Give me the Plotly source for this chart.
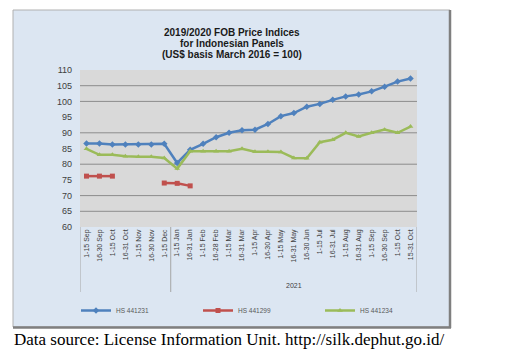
import plotly.graph_objects as go

# ---- data ----
periods = ["1-15 Sep", "16-30 Sep", "1-15 Oct", "16-31 Oct", "1-15 Nov", "16-30 Nov", "1-15 Dec",
           "1-15 Jan", "16-31 Jan", "1-15 Feb", "16-28 Feb", "1-15 Mar", "16-31 Mar", "1-15 Apr",
           "16-30 Apr", "1-15 May", "16-31 May", "16-30 Jun", "1-15 Jul", "16-31 Jul", "1-15 Aug",
           "16-31 Aug", "1-15 Sep", "16-30 Sep", "1-15 Oct", "15-31 Oct"]
group_2021_start = 7
group_label = "2021"

hs441231 = [86.6, 86.6, 86.3, 86.3, 86.3, 86.3, 86.5, 80.4, 84.6, 86.5, 88.6, 90.0, 90.8, 91.0,
            92.8, 95.3, 96.3, 98.3, 99.2, 100.5, 101.6, 102.2, 103.2, 104.7, 106.3, 107.3]
hs441299 = [76.2, 76.2, 76.2, None, None, None, 74.0, 73.9, 73.1, None, None, None, None, None,
            None, None, None, None, None, None, None, None, None, None, None, None]
hs441234 = [84.9, 83.0, 83.0, 82.5, 82.4, 82.4, 82.0, 78.6, 84.1, 84.1, 84.1, 84.1, 84.9, 84.0,
            84.0, 83.9, 82.0, 81.9, 87.0, 87.8, 90.0, 88.8, 90.0, 91.0, 90.0, 92.0]

series_names = ["HS 441231", "HS 441299", "HS 441234"]
y_ticks = [60, 65, 70, 75, 80, 85, 90, 95, 100, 105, 110]
grid_values = [65, 70, 80, 90, 100, 105]

title_lines = ["2019/2020 FOB Price Indices", "for Indonesian Panels", "(US$ basis March 2016 = 100)"]
caption = "Data source: License Information Unit. http://silk.dephut.go.id/"

# ---- layout geometry (pixels) ----
W, H = 511, 354
L, R, T, B = 80, 417, 70, 227
pw, ph = R - L, B - T


def px(x):
    return (x - L) / pw


def py(y):
    return (B - y) / ph


xs = list(range(len(periods)))
fig = go.Figure()
colors = ["#4f81bd", "#c0504d", "#9bbb59"]
symbols = ["diamond", "square", "triangle-up"]
for name, vals, c, s in zip(series_names, [hs441231, hs441299, hs441234], colors, symbols):
    fig.add_trace(go.Scatter(x=xs, y=vals, name=name, mode="lines+markers",
                             line=dict(color=c, width=2.5),
                             marker=dict(color=c, symbol=s, size=5),
                             connectgaps=False))

shapes = []
# chart frame
shapes.append(dict(type="rect", xref="paper", yref="paper", x0=px(13), x1=px(450), y0=py(327), y1=py(10),
                   fillcolor="#dce6f2", line=dict(color="#b0b0b0", width=1), layer="below"))
shapes.append(dict(type="line", xref="paper", yref="paper", x0=px(450), x1=px(450), y0=py(328), y1=py(10),
                   line=dict(color="#7f7f7f", width=2.5), layer="below"))
shapes.append(dict(type="line", xref="paper", yref="paper", x0=px(13), x1=px(451), y0=py(327.5), y1=py(327.5),
                   line=dict(color="#7f7f7f", width=2.5), layer="below"))
# plot area
shapes.append(dict(type="rect", xref="paper", yref="paper", x0=0, x1=1, y0=0, y1=1,
                   fillcolor="#d9d9d9", line=dict(width=0), layer="below"))
for g in grid_values:
    shapes.append(dict(type="line", xref="paper", yref="y", x0=0, x1=1, y0=g, y1=g,
                       line=dict(color="#8c8c8c", width=1), layer="below"))
# group dividers
for xb in [-0.5, group_2021_start - 0.5, len(periods) - 0.5]:
    shapes.append(dict(type="line", xref="x", yref="paper", x0=xb, x1=xb, y0=0, y1=py(292),
                       line=dict(color="#a6a6a6", width=1), layer="below"))

annotations = []
for line, yy in zip(title_lines, [32, 43, 54]):
    annotations.append(dict(text="<b>" + line + "</b>", xref="paper", yref="paper", x=px(231.5), y=py(yy),
                            xanchor="center", yanchor="middle", showarrow=False,
                            font=dict(family="Liberation Sans", size=10, color="#1a1a1a")))
annotations.append(dict(text=group_label, xref="x", yref="paper",
                        x=(group_2021_start + len(periods) - 1) / 2, y=py(285),
                        xanchor="center", yanchor="middle", showarrow=False,
                        font=dict(family="Liberation Sans", size=7, color="#404040")))
annotations.append(dict(text=caption, xref="paper", yref="paper", x=px(12), y=py(339),
                        xanchor="left", yanchor="middle", showarrow=False,
                        font=dict(family="Liberation Serif", size=17, color="#000000")))

fig.update_layout(
    width=W, height=H,
    margin=dict(l=L, r=W - R, t=T, b=H - B, pad=0),
    paper_bgcolor="white",
    plot_bgcolor="rgba(0,0,0,0)",
    shapes=shapes,
    annotations=annotations,
    showlegend=True,
    legend=dict(orientation="h", xref="paper", yref="paper",
                x=px(76), y=py(296), xanchor="left", yanchor="top",
                bgcolor="rgba(0,0,0,0)", font=dict(family="Liberation Sans", size=6.5, color="#595959"),
                entrywidth=77, entrywidthmode="pixels", itemwidth=30, tracegroupgap=0),
    xaxis=dict(range=[-0.5, len(periods) - 0.5], tickvals=xs, ticktext=periods, tickangle=-90,
               showgrid=False, zeroline=False, showline=False, ticks="",
               tickfont=dict(family="Liberation Sans", size=7, color="#404040"), fixedrange=True),
    yaxis=dict(range=[60, 110], tickvals=y_ticks, showgrid=False, zeroline=False, showline=False,
               ticks="", ticklabelstandoff=7,
               tickfont=dict(family="Liberation Sans", size=9, color="#404040"), fixedrange=True),
)

fig.write_html("out.html", config={"displayModeBar": False})
